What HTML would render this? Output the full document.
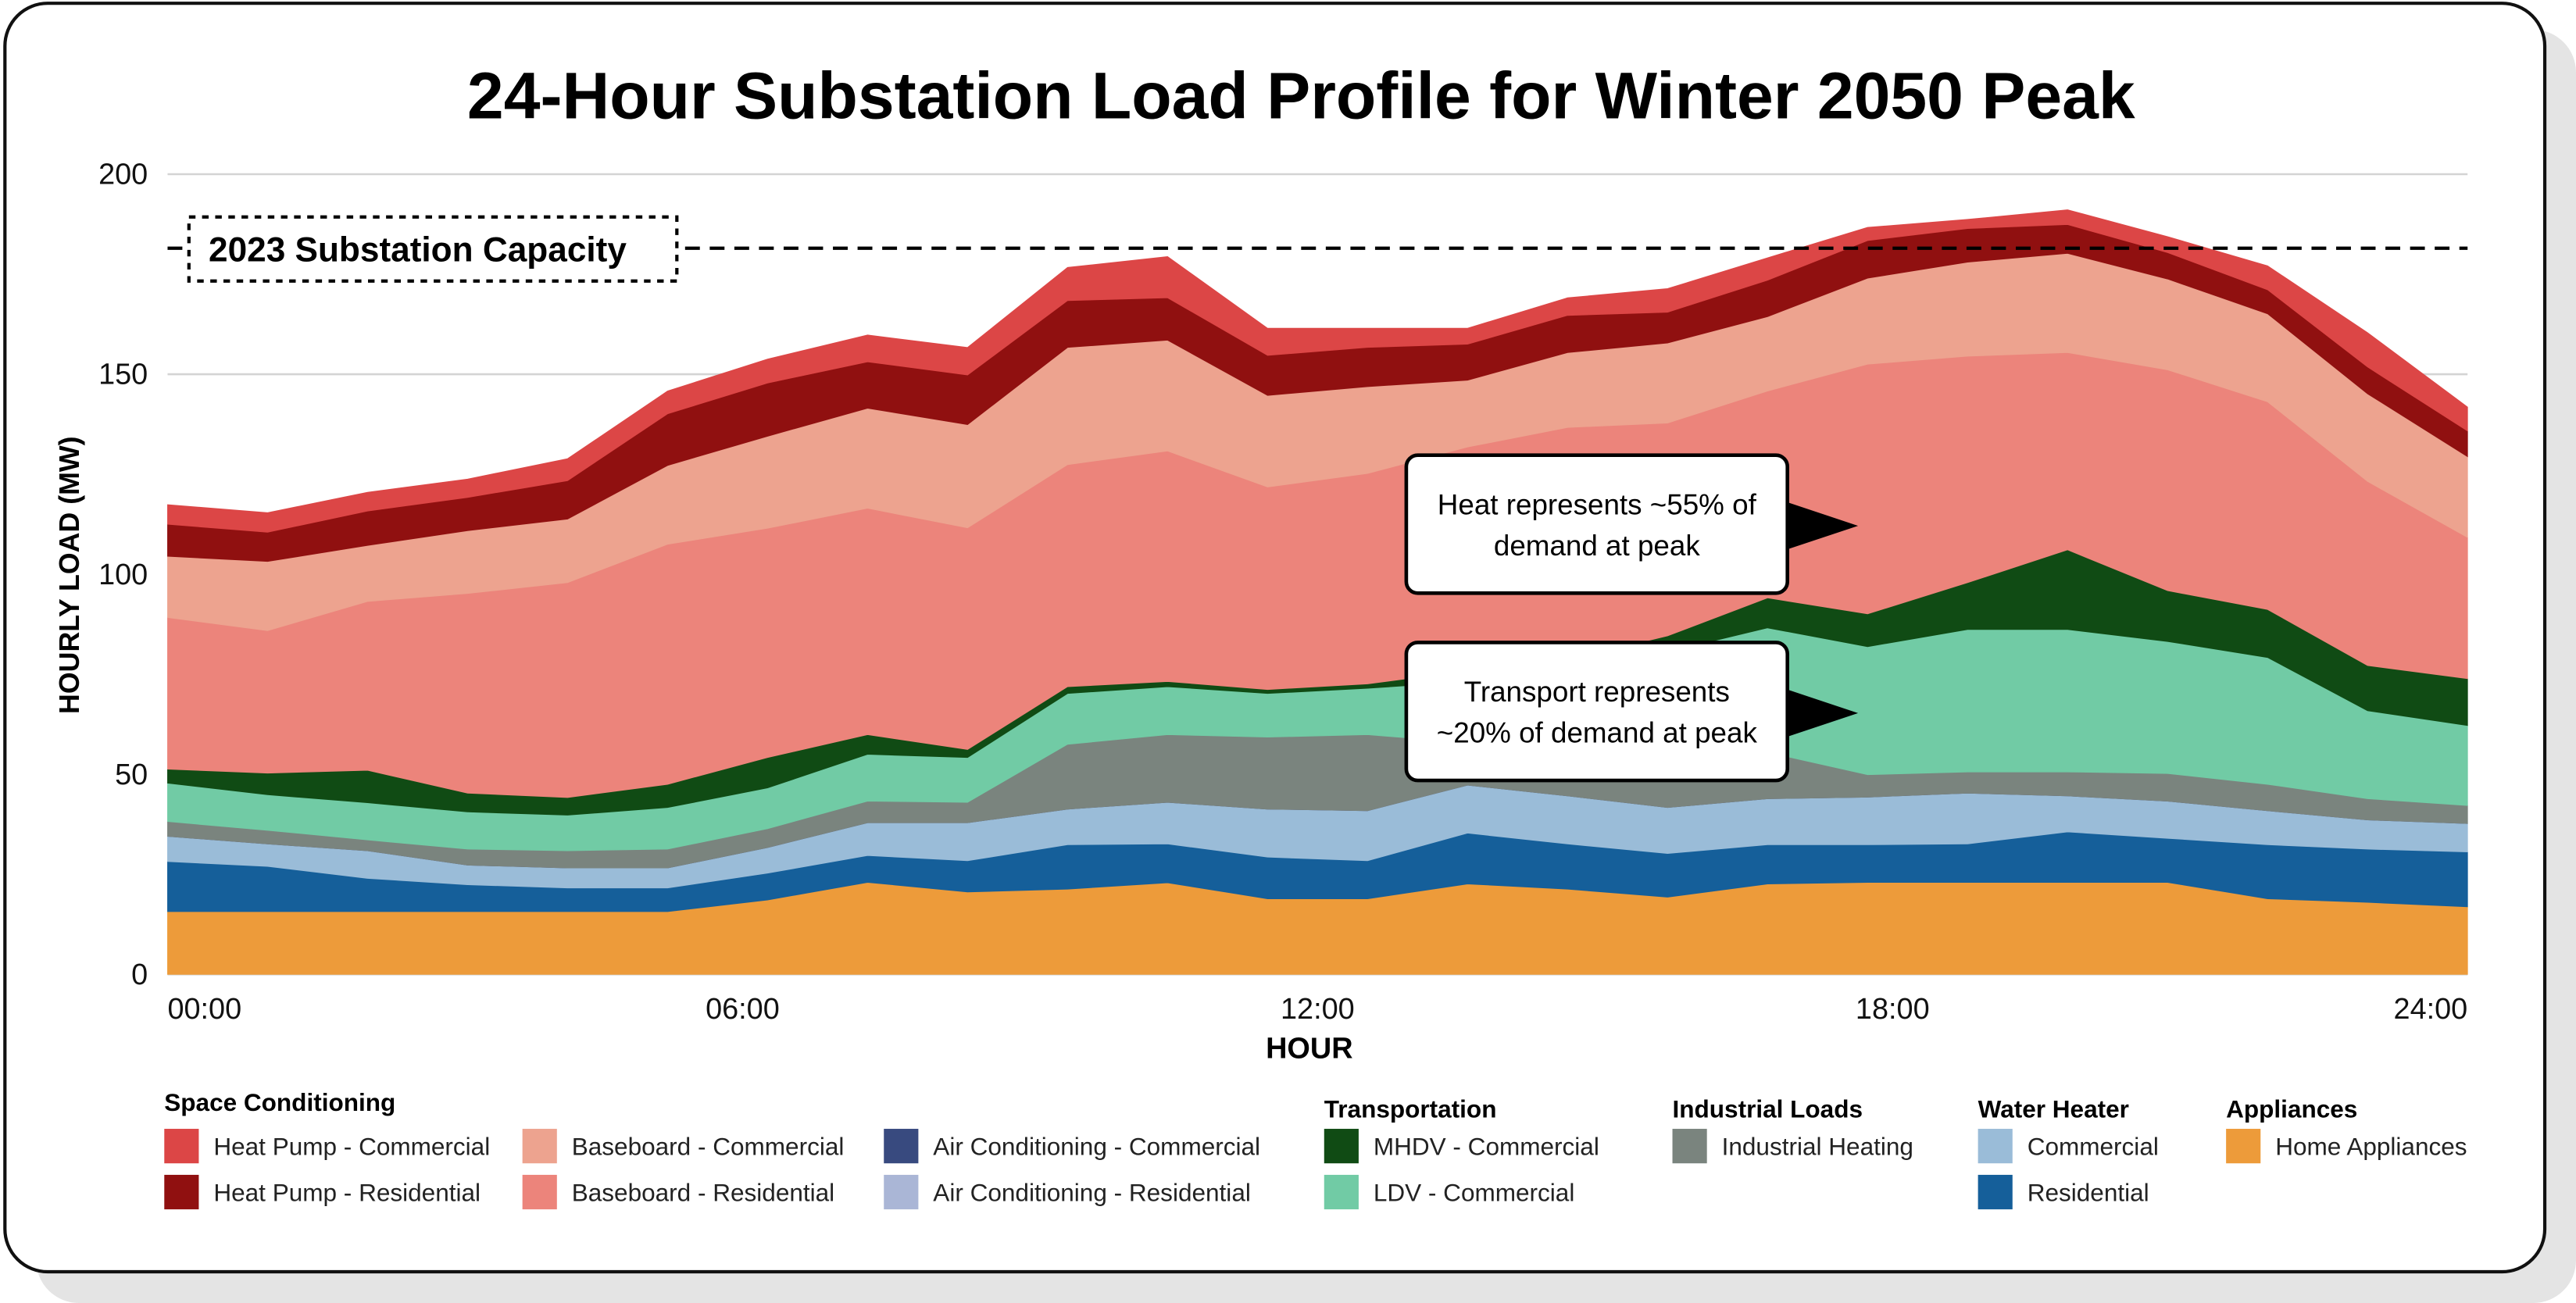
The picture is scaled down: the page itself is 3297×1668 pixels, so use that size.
<!DOCTYPE html>
<html><head><meta charset="utf-8">
<style>
html,body{margin:0;padding:0;background:#fff;}
svg{display:block;}
text{font-family:"Liberation Sans",sans-serif;}
</style></head>
<body>
<svg id="chart" width="3297" height="1668" viewBox="0 0 1568 793" preserveAspectRatio="none" xmlns="http://www.w3.org/2000/svg">
  <rect x="22" y="18" width="1546" height="775" rx="26" fill="#e4e4e4"/>
  <rect x="3" y="2" width="1546" height="772" rx="26" fill="#fff" stroke="#111" stroke-width="2"/>
  <text x="792" y="72" text-anchor="middle" font-size="40" font-weight="bold" fill="#000">24-Hour Substation Load Profile for Winter 2050 Peak</text>
  <g id="grid"></g>
  <g id="areas"></g>
  <g id="overlay"></g>
  <text transform="translate(48,350) rotate(-90)" text-anchor="middle" font-size="17" font-weight="bold">HOURLY LOAD (MW)</text>
  <text x="797" y="644" text-anchor="middle" font-size="18" font-weight="bold">HOUR</text>
  <g id="legend"></g>
</svg>
<script>
const hours = [0,1,2,3,4,5,6,7,8,9,10,11,12,13,14,15,16,17,18,19,20,21,22,23];
const yTicks = [0,50,100,150,200];
const xTickHours = [0,6,12,18,24];
const xTickLabels = ["00:00","06:00","12:00","18:00","24:00"];
const capacity = 181.5;
const appliances = [15.7,15.7,15.7,15.7,15.7,15.7,18.6,23.0,20.6,21.3,22.9,18.9,18.9,22.6,21.3,19.3,22.6,23.0,23.0,23.0,23.0,18.9,18.0,16.9];
const waterRes = [12.5,11.3,8.3,6.7,5.9,5.9,6.7,6.7,7.8,11.1,9.7,10.4,9.5,12.7,11.3,10.9,9.8,9.4,9.6,12.6,11.0,13.5,13.3,13.7];
const waterCom = [6.3,5.6,6.9,4.9,5.0,5.0,6.4,8.2,9.5,8.9,10.4,12.0,12.5,12.0,12.0,11.5,11.5,11.9,12.7,9.0,9.3,8.5,7.3,7.1];
const acRes = [0,0,0,0,0,0,0,0,0,0,0,0,0,0,0,0,0,0,0,0,0,0,0,0];
const acCom = [0,0,0,0,0,0,0,0,0,0,0,0,0,0,0,0,0,0,0,0,0,0,0,0];
const industrial = [3.7,3.4,2.7,4.0,4.3,4.7,4.7,5.4,5.1,16.2,16.9,18.0,19.0,10.6,12.0,12.9,11.6,5.6,5.3,6.0,6.9,6.6,5.3,4.5];
const ldv = [9.6,8.9,9.3,9.3,8.9,10.4,10.2,11.7,11.2,12.7,12.0,10.9,11.6,15.3,20.6,26.0,31.1,32.0,35.6,35.6,33.0,31.7,22.0,20.0];
const mhdv = [3.5,5.4,8.1,4.7,4.4,5.8,7.6,4.9,2.0,1.7,1.3,1.0,1.1,2.7,1.4,4.0,7.5,8.2,11.7,19.9,12.7,12.0,11.3,11.7];
const baseRes = [37.9,35.6,42.2,49.9,53.7,60.0,57.3,56.6,55.4,55.5,57.6,50.6,52.6,55.9,58.1,53.2,51.7,62.4,56.6,49.3,55.2,51.9,46.0,35.3];
const baseCom = [15.3,17.3,14.0,15.7,15.9,19.7,23.0,25.0,25.8,29.3,27.7,22.9,21.7,16.7,18.7,20.0,18.6,21.5,23.5,24.8,22.7,22.0,21.9,20.2];
const hpRes = [8.0,7.3,8.6,8.3,9.6,12.9,13.3,11.6,12.4,11.7,10.6,10.0,9.8,9.0,9.3,7.7,9.1,9.4,8.4,7.2,6.6,6.0,6.7,6.4];
const hpCom = [4.9,4.9,4.7,4.6,5.5,5.7,6.0,6.7,6.9,8.3,10.3,6.8,4.8,4.0,4.4,5.9,5.6,3.3,2.3,3.7,4.0,6.0,8.6,6.0];

const NS="http://www.w3.org/2000/svg";
const X0=102,X1=1502,Y0=593,Y1=106,YMAX=200;
function xIdx(i){return X0+(X1-X0)*i/(hours.length-1);}
function xHour(h){return X0+(X1-X0)*h/24;}
function yv(v){return Y0-(Y0-Y1)*v/YMAX;}
function mk(tag,attrs,parent){const e=document.createElementNS(NS,tag);for(const k in attrs)e.setAttribute(k,attrs[k]);parent.appendChild(e);return e;}

const grid=document.getElementById('grid');
yTicks.forEach(t=>{
  const l=mk('line',{x1:X0,x2:X1,y1:yv(t),y2:yv(t),stroke:'#d4d4d4','stroke-width':1.2},grid);
  
  
  const tx=mk('text',{x:90,y:yv(t)+6,'text-anchor':'end','font-size':18,fill:'#111'},grid);
  tx.textContent=t;
  
  
});
xTickHours.forEach((h,k)=>{
  const anchor=k===0?'start':(k===xTickHours.length-1?'end':'middle');
  const tx=mk('text',{x:xHour(h),y:620,'text-anchor':anchor,'font-size':18,fill:'#111'},grid);
  tx.textContent=xTickLabels[k];
  
  
});

const series=[
  {name:'home-appliances',vals:appliances,color:'#ed9b3a'},
  {name:'water-heater-residential',vals:waterRes,color:'#155f9a'},
  {name:'water-heater-commercial',vals:waterCom,color:'#9abcd8'},
  {name:'ac-residential',vals:acRes,color:'#aab6d6'},
  {name:'ac-commercial',vals:acCom,color:'#384a7f'},
  {name:'industrial-heating',vals:industrial,color:'#7a847e'},
  {name:'ldv-commercial',vals:ldv,color:'#71cba5'},
  {name:'mhdv-commercial',vals:mhdv,color:'#104b14'},
  {name:'baseboard-residential',vals:baseRes,color:'#ec847b'},
  {name:'baseboard-commercial',vals:baseCom,color:'#eda38f'},
  {name:'heat-pump-residential',vals:hpRes,color:'#901010'},
  {name:'heat-pump-commercial',vals:hpCom,color:'#dc4646'}
];
const areas=document.getElementById('areas');
let base=hours.map(()=>0);
series.forEach(s=>{
  const top=base.map((b,i)=>b+s.vals[i]);
  let d='';
  top.forEach((v,i)=>{d+=(i?'L':'M')+xIdx(i).toFixed(2)+','+yv(v).toFixed(2);});
  for(let i=base.length-1;i>=0;i--){d+='L'+xIdx(i).toFixed(2)+','+yv(base[i]).toFixed(2);}
  d+='Z';
  const p=mk('path',{d:d,fill:s.color,stroke:s.color,'stroke-width':0.4},areas);
  
  
  base=top;
});

const ov=document.getElementById('overlay');
const cap=mk('line',{x1:X0,x2:X1,y1:yv(capacity),y2:yv(capacity),stroke:'#000','stroke-width':2,'stroke-dasharray':'9,6'},ov);


const capBox=mk('rect',{x:115,y:yv(capacity)-19,width:297,height:39,fill:'#fff',stroke:'#000','stroke-width':2,'stroke-dasharray':'4,4'},ov);


const capTx=mk('text',{x:127,y:yv(capacity)+8,'font-size':21,'font-weight':'bold'},ov);
capTx.textContent='2023 Substation Capacity';



function callout(y,l1,l2,name){
  const tri=mk('polygon',{points:`1086,${y+28} 1131,${y+43} 1086,${y+58}`,fill:'#000'},ov);
  
  
  const r=mk('rect',{x:856,y:y,width:232,height:84,rx:7,fill:'#fff',stroke:'#000','stroke-width':2.2},ov);
  
  
  const t1=mk('text',{x:972,y:y+36,'text-anchor':'middle','font-size':17.5},ov);
  t1.textContent=l1;
  
  
  const t2=mk('text',{x:972,y:y+61,'text-anchor':'middle','font-size':17.5},ov);
  t2.textContent=l2;
  
  
}
callout(277,'Heat represents ~55% of','demand at peak','heat-annotation');
callout(391,'Transport represents','~20% of demand at peak','transport-annotation');

const lg=document.getElementById('legend');
const headers=[['Space Conditioning',100,676],['Transportation',806,680],['Industrial Loads',1018,680],['Water Heater',1204,680],['Appliances',1355,680]];
headers.forEach(h=>{
  const t=mk('text',{x:h[1],y:h[2],'font-size':15,'font-weight':'bold'},lg);
  t.textContent=h[0];
  
  
});
const items=[
  ['Heat Pump - Commercial','#dc4646',100,0],['Heat Pump - Residential','#901010',100,1],
  ['Baseboard - Commercial','#eda38f',318,0],['Baseboard - Residential','#ec847b',318,1],
  ['Air Conditioning - Commercial','#384a7f',538,0],['Air Conditioning - Residential','#aab6d6',538,1],
  ['MHDV - Commercial','#104b14',806,0],['LDV - Commercial','#71cba5',806,1],
  ['Industrial Heating','#7a847e',1018,0],
  ['Commercial','#9abcd8',1204,0],['Residential','#155f9a',1204,1],
  ['Home Appliances','#ed9b3a',1355,0]
];
items.forEach(it=>{
  const y=687+it[3]*28;
  const g=mk('g',{},lg);
  
  
  mk('rect',{x:it[2],y:y,width:21,height:21,fill:it[1]},g);
  const t=mk('text',{x:it[2]+30,y:y+16,'font-size':15,fill:'#222'},g);
  t.textContent=it[0];
});
</script>
</body></html>
